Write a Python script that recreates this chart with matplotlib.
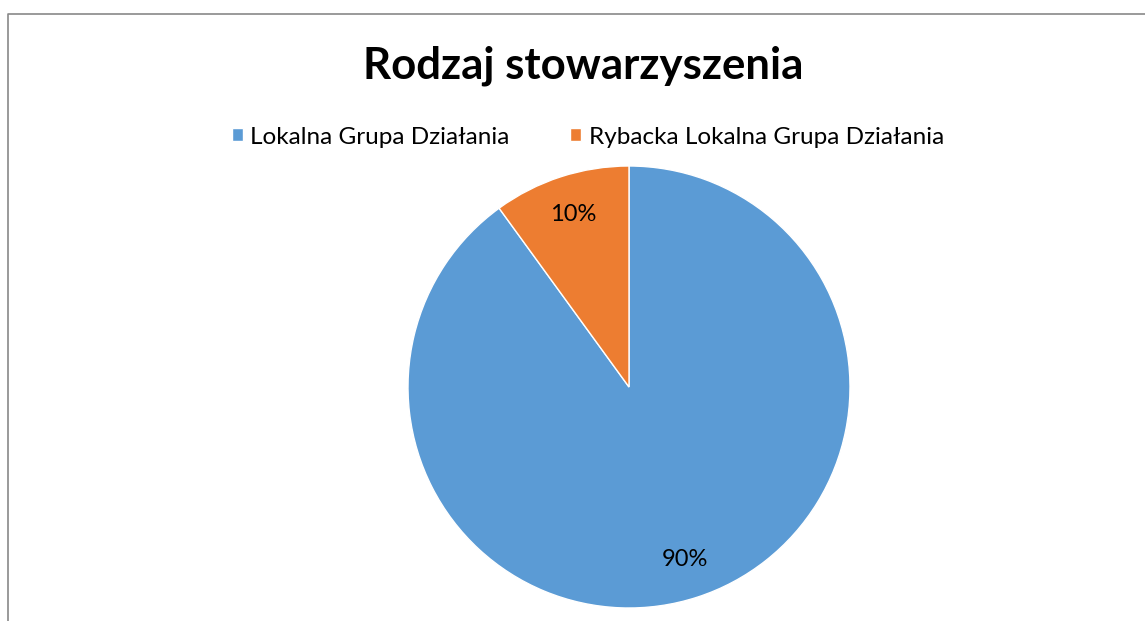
import matplotlib
matplotlib.use("Agg")
import matplotlib.pyplot as plt
from matplotlib.lines import Line2D

W_PX, H_PX = 1145, 621

CATEGORIES = ["Lokalna Grupa Działania", "Rybacka Lokalna Grupa Działania"]
SHARES = [90, 10]
COLORS = ["#5B9BD5", "#ED7D31"]
TITLE = "Rodzaj stowarzyszenia"

plt.rcParams["font.family"] = ["Lato", "DejaVu Sans"]


def main() -> None:
    fig = plt.figure(figsize=(W_PX / 100, H_PX / 100), dpi=100)

    # pie centre (629, 387) px, radius 221 px
    cx, cy, r = 629, 387, 221
    ax = fig.add_axes([(cx - r) / W_PX, (H_PX - cy - r) / H_PX, 2 * r / W_PX, 2 * r / H_PX])
    wedges, _texts, autotexts = ax.pie(
        SHARES,
        colors=COLORS,
        startangle=90,
        counterclock=False,
        autopct="%.0f%%",
        pctdistance=0.82,
        wedgeprops={"edgecolor": "white", "linewidth": 1.0},
        textprops={"fontsize": 17, "color": "black"},
    )
    ax.set_xlim(-1, 1)
    ax.set_ylim(-1, 1)
    ax.set_aspect("equal")

    fig.text(583 / W_PX, 1 - 66 / H_PX, TITLE, ha="center", va="center",
             fontsize=31.5, fontweight="bold")

    fig.legend(
        wedges,
        CATEGORIES,
        loc="center",
        bbox_to_anchor=(588 / W_PX, 1 - 137 / H_PX),
        ncol=2,
        frameon=False,
        fontsize=17.5,
        handlelength=0.45,
        handleheight=0.45,
        handletextpad=0.3,
        columnspacing=2.5,
    )

    # chart area border (partially visible)
    border = Line2D([8 / W_PX, 8 / W_PX, 1.0], [0.0, 1 - 14 / H_PX, 1 - 14 / H_PX],
                    transform=fig.transFigure, color="#898989", linewidth=1.2)
    fig.add_artist(border)

    fig.savefig("out.png", dpi=100)
    plt.close(fig)


if __name__ == "__main__":
    main()
